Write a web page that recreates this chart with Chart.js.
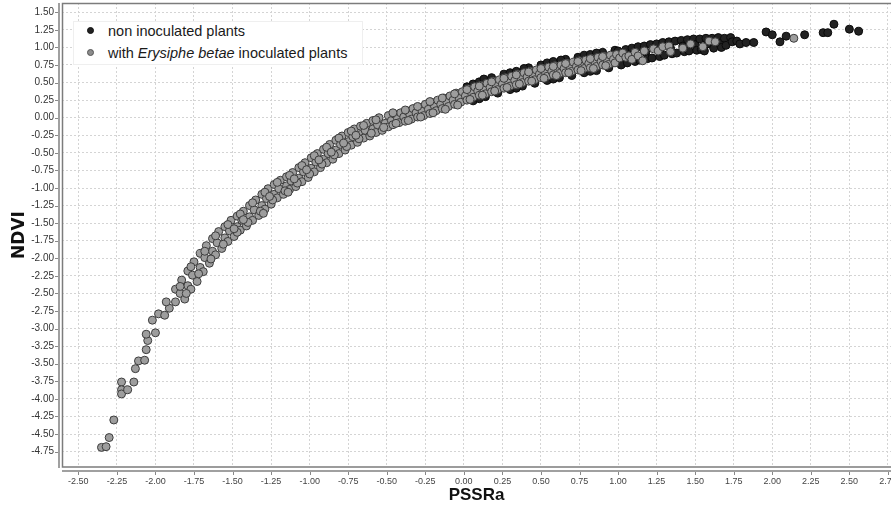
<!DOCTYPE html>
<html><head><meta charset="utf-8">
<script src="https://cdn.jsdelivr.net/npm/chart.js@4.4.0/dist/chart.umd.min.js"></script>
<style>
html,body{margin:0;padding:0;background:#fff;overflow:hidden;}
#wrap{position:relative;width:891px;height:506px;}
canvas{display:block;}
#legend{position:absolute;left:73px;top:21px;width:288px;height:42px;background:#fff;border:1px solid #efefef;font-family:'Liberation Sans',Arial,sans-serif;font-size:14.5px;color:#1a1a1a;}
.row{position:absolute;left:0;height:20px;line-height:20px;white-space:nowrap;}
.mk{position:absolute;left:13px;top:6px;width:7px;height:7px;border-radius:50%;box-sizing:border-box;}
.tx{position:absolute;left:34px;top:0;}
</style>
</head><body>
<div id="wrap">
<canvas id="c" width="891" height="506"></canvas>
<div id="legend">
 <div class="row" style="top:-1px"><span class="mk" style="background:#222;border:1px solid #111"></span><span class="tx">non inoculated plants</span></div>
 <div class="row" style="top:21px"><span class="mk" style="background:#8c8c8c;border:1px solid #555"></span><span class="tx">with <i>Erysiphe betae</i> inoculated plants</span></div>
</div>
</div>
<script>
const xTickValues = [-2.5,-2.25,-2,-1.75,-1.5,-1.25,-1,-0.75,-0.5,-0.25,0,0.25,0.5,0.75,1,1.25,1.5,1.75,2,2.25,2.5,2.75];
const yTickValues = [1.5,1.25,1,0.75,0.5,0.25,0,-0.25,-0.5,-0.75,-1,-1.25,-1.5,-1.75,-2,-2.25,-2.5,-2.75,-3,-3.25,-3.5,-3.75,-4,-4.25,-4.5,-4.75];
const seriesLabels = ['non inoculated plants','with Erysiphe betae inoculated plants'];

// [PSSRa, NDVI] - non inoculated plants (dark points)
const nonInoculated = [
[0.02,0.44],[0.06,0.48],[0.10,0.51],[0.18,0.57],[0.26,0.62],[0.30,0.64],[0.34,0.66],[0.42,0.71],[0.50,0.75],[0.54,0.78],[0.58,0.80],[0.66,0.83],[0.74,0.86],[0.78,0.89],[0.82,0.90],[0.90,0.93],[0.98,0.96],
[0.13,0.55],[0.39,0.70],[0.63,0.82],[0.86,0.92],
[0.06,0.24],[0.14,0.30],[0.22,0.35],[0.30,0.40],[0.38,0.45],[0.46,0.49],[0.54,0.53],[0.62,0.57],[0.70,0.60],[0.78,0.64],[0.86,0.67],[0.94,0.71],
[0.10,0.27],[0.34,0.42],[0.58,0.55],[0.82,0.66],
[1.00,0.95],[1.01,0.85],[1.02,0.75],[1.05,0.97],[1.06,0.78],[1.09,0.99],[1.10,0.90],[1.11,0.80],[1.13,1.01],[1.14,0.82],
[1.17,1.02],[1.18,0.93],[1.19,0.84],[1.21,1.04],[1.22,0.85],[1.25,1.05],[1.26,0.96],[1.27,0.87],[1.29,1.07],[1.30,0.89],
[1.33,1.08],[1.34,0.99],[1.35,0.91],[1.37,1.09],[1.38,0.92],[1.41,1.10],[1.42,1.02],[1.43,0.94],[1.45,1.11],[1.46,0.95],
[1.49,1.12],[1.50,1.04],[1.51,0.96],[1.53,1.12],[1.54,0.97],[1.57,1.13],[1.58,1.05],[1.56,0.95],[1.61,1.13],[1.62,0.99],
[1.65,1.14],[1.66,1.06],[1.67,1.00],[1.69,1.13],[1.70,1.03],[1.73,1.14],[1.74,1.08],[1.77,1.09],[1.79,1.05],[1.83,1.07],[1.88,1.07],
[1.96,1.22],[2.00,1.18],[2.05,1.08],[2.09,1.16],[2.21,1.18],[2.33,1.21],[2.36,1.21],[2.40,1.33],[2.50,1.26],[2.56,1.23]
];

// [PSSRa, NDVI] - with Erysiphe betae inoculated plants (grey points)
const inoculated = [
[-2.35,-4.69],[-2.32,-4.68],[-2.30,-4.55],[-2.27,-4.30],
[-2.22,-3.76],[-2.22,-3.87],[-2.22,-3.93],[-2.18,-3.87],[-2.14,-3.76],[-2.13,-3.57],[-2.11,-3.46],[-2.07,-3.45],[-2.06,-3.30],[-2.05,-3.17],[-2.06,-3.08],[-2.00,-3.06],[-2.02,-2.88],[-1.98,-2.79],[-1.94,-2.81],[-1.91,-2.71],[-1.93,-2.62],[-1.87,-2.62],
[-1.87,-2.44],[-1.84,-2.50],[-1.81,-2.58],[-1.83,-2.31],[-1.79,-2.39],[-1.77,-2.44],[-1.79,-2.18],[-1.76,-2.24],[-1.73,-2.33],
[-1.75,-2.05],[-1.71,-2.13],[-1.69,-2.19],[-1.71,-1.93],[-1.68,-1.99],[-1.65,-2.07],[-1.67,-1.82],[-1.63,-1.90],[-1.61,-1.95],
[-1.63,-1.72],[-1.60,-1.78],[-1.57,-1.86],[-1.59,-1.62],[-1.55,-1.71],[-1.53,-1.76],[-1.55,-1.55],[-1.52,-1.61],[-1.49,-1.69],
[-1.51,-1.46],[-1.47,-1.55],[-1.45,-1.60],[-1.47,-1.40],[-1.44,-1.46],[-1.41,-1.54],[-1.43,-1.33],[-1.39,-1.41],[-1.37,-1.46],
[-1.39,-1.25],[-1.36,-1.31],[-1.33,-1.39],[-1.35,-1.17],[-1.31,-1.25],[-1.29,-1.30],[-1.31,-1.09],[-1.28,-1.15],[-1.25,-1.23],
[-1.27,-1.01],[-1.23,-1.09],[-1.21,-1.14],[-1.23,-0.95],[-1.20,-1.01],[-1.17,-1.09],[-1.19,-0.89],[-1.15,-0.97],[-1.13,-1.02],
[-1.15,-0.84],[-1.12,-0.90],[-1.09,-0.98],[-1.11,-0.78],[-1.07,-0.86],[-1.05,-0.91],[-1.07,-0.71],[-1.04,-0.77],[-1.01,-0.85],
[-1.03,-0.64],[-0.99,-0.72],[-0.97,-0.77],[-0.99,-0.57],[-0.96,-0.63],[-0.93,-0.71],[-0.95,-0.51],[-0.91,-0.59],[-0.89,-0.64],
[-0.91,-0.45],[-0.88,-0.51],[-0.85,-0.59],[-0.87,-0.38],[-0.83,-0.46],[-0.81,-0.51],[-0.83,-0.32],[-0.80,-0.38],[-0.77,-0.46],
[-0.79,-0.26],[-0.75,-0.34],[-0.73,-0.39],[-0.75,-0.21],[-0.72,-0.27],[-0.69,-0.35],[-0.71,-0.16],[-0.67,-0.24],[-0.65,-0.29],
[-0.67,-0.12],[-0.64,-0.18],[-0.61,-0.26],[-0.63,-0.08],[-0.59,-0.16],[-0.57,-0.21],[-0.59,-0.04],[-0.56,-0.10],[-0.53,-0.18],
[-0.55,0.00],[-0.51,-0.08],[-0.49,-0.13],
[-1.84,-2.40],[-1.80,-2.50],[-1.77,-2.12],[-1.72,-2.22],[-1.68,-1.90],[-1.64,-2.01],[-1.61,-1.68],[-1.56,-1.80],
[-1.53,-1.52],[-1.47,-1.63],[-1.49,-1.58],[-1.45,-1.37],[-1.40,-1.49],[-1.43,-1.45],[-1.37,-1.21],[-1.32,-1.33],[-1.30,-1.36],
[-1.29,-1.06],[-1.24,-1.17],[-1.26,-1.12],[-1.21,-0.92],[-1.16,-1.04],[-1.14,-1.06],[-1.13,-0.82],[-1.08,-0.93],[-1.10,-0.87],
[-1.05,-0.68],[-1.00,-0.80],[-1.02,-0.74],[-0.97,-0.54],[-0.92,-0.66],[-0.94,-0.60],[-0.89,-0.42],[-0.84,-0.53],[-0.86,-0.49],
[-0.81,-0.29],[-0.76,-0.41],[-0.78,-0.36],[-0.73,-0.19],[-0.68,-0.30],[-0.70,-0.25],[-0.65,-0.11],[-0.60,-0.22],[-0.57,-0.03],[-0.52,-0.14],
[-0.49,0.03],[-0.47,-0.04],[-0.46,-0.10],[-0.45,0.05],[-0.43,-0.01],[-0.42,-0.07],[-0.41,0.07],[-0.39,0.01],[-0.38,-0.05],
[-0.37,0.10],[-0.35,0.04],[-0.34,-0.02],[-0.33,0.13],[-0.31,0.07],[-0.30,0.01],[-0.29,0.15],[-0.27,0.09],[-0.26,0.03],
[-0.25,0.19],[-0.23,0.12],[-0.22,0.06],[-0.21,0.22],[-0.19,0.16],[-0.18,0.10],[-0.17,0.25],[-0.15,0.19],[-0.14,0.13],
[-0.13,0.28],[-0.11,0.22],[-0.10,0.16],[-0.09,0.31],[-0.07,0.25],[-0.06,0.19],[-0.05,0.35],[-0.03,0.28],[-0.02,0.22],
[-0.01,0.37],[0.01,0.31],[0.02,0.25],[0.03,0.41],[0.05,0.35],[0.06,0.29],[0.07,0.44],[0.09,0.38],[0.10,0.32],
[0.11,0.46],[0.13,0.40],[0.14,0.34],[0.15,0.49],[0.17,0.43],[0.18,0.37],[0.19,0.52],[0.21,0.46],[0.22,0.40],
[0.23,0.54],[0.25,0.48],[0.26,0.42],[0.27,0.57],[0.29,0.51],[0.30,0.45],[0.31,0.59],[0.33,0.53],[0.34,0.47],
[0.35,0.62],[0.37,0.56],[0.38,0.50],[0.39,0.64],[0.41,0.58],[0.42,0.52],[0.43,0.66],[0.45,0.60],[0.46,0.54],
[0.47,0.68],[0.49,0.62],[0.50,0.57],[0.51,0.70],[0.53,0.64],[0.54,0.59],[0.55,0.72],[0.57,0.66],[0.58,0.61],
[0.59,0.74],[0.61,0.68],[0.62,0.63],[0.63,0.75],[0.65,0.70],[0.66,0.64],[0.67,0.77],[0.69,0.72],[0.70,0.66],
[0.71,0.79],[0.73,0.73],[0.74,0.68],[0.75,0.81],[0.77,0.75],[0.78,0.70],[0.79,0.82],[0.81,0.77],[0.82,0.71],
[0.83,0.84],[0.85,0.79],[0.86,0.73],[0.87,0.86],[0.89,0.80],[0.90,0.75],[0.91,0.87],[0.93,0.82],[0.94,0.76],
[0.95,0.89],[0.97,0.83],[0.98,0.78],
[-0.46,0.07],[-0.44,-0.08],[-0.38,0.11],[-0.36,-0.04],[-0.30,0.16],[-0.28,0.01],[-0.22,0.23],[-0.20,0.07],[-0.14,0.28],[-0.12,0.12],
[-0.06,0.34],[-0.04,0.18],[0.02,0.40],[0.04,0.26],[0.10,0.45],[0.12,0.32],[0.18,0.51],[0.20,0.38],[0.26,0.56],[0.28,0.43],
[0.34,0.61],[0.36,0.48],[0.42,0.65],[0.44,0.52],[0.50,0.70],[0.52,0.56],[0.58,0.73],[0.60,0.60],[0.66,0.77],[0.68,0.64],
[0.74,0.80],[0.76,0.67],[0.82,0.84],[0.84,0.70],[0.90,0.87],[0.92,0.74],
[0.99,0.90],[1.01,0.85],[1.03,0.92],[1.05,0.86],[1.07,0.88],[1.09,0.83],[1.11,0.93],[1.13,0.88],[1.16,0.81],[1.17,0.95],
[1.23,0.98],[1.26,0.95],[1.29,1.01],[1.33,1.02],[1.34,0.94],[1.42,0.99],[1.47,1.05],[1.55,1.01],[1.59,1.09],[1.63,1.08],[2.14,1.13]
];

const toXY = arr => arr.map(p => ({x: p[0], y: p[1]}));
const tickFont = {family: "'Liberation Sans', Arial, sans-serif", size: 9};

const frame = {
  id: 'frame',
  afterDraw(chart) {
    const {ctx, chartArea: a, scales: {x, y}} = chart;
    ctx.save();
    ctx.strokeStyle = '#7c7c7c';
    ctx.lineWidth = 1.5;
    ctx.beginPath();
    ctx.moveTo(chart.width + 2, a.top + 0.5);
    ctx.lineTo(a.left + 0.5, a.top + 0.5);
    ctx.lineTo(a.left + 0.5, a.bottom);
    ctx.lineTo(chart.width + 2, a.bottom);
    ctx.stroke();
    ctx.strokeStyle = '#a0a0a0';
    ctx.lineWidth = 2;
    ctx.beginPath();
    ctx.moveTo(a.left - 3, a.top);
    ctx.lineTo(a.left - 3, a.bottom + 1);
    ctx.moveTo(a.left, a.bottom + 4);
    ctx.lineTo(chart.width + 2, a.bottom + 4);
    ctx.stroke();
    ctx.strokeStyle = '#888';
    ctx.lineWidth = 1;
    ctx.beginPath();
    yTickValues.forEach(v => { const py = Math.round(y.getPixelForValue(v)) + 0.5; ctx.moveTo(a.left - 7, py); ctx.lineTo(a.left - 4, py); });
    xTickValues.forEach(v => { const px = Math.round(x.getPixelForValue(v)) + 0.5; ctx.moveTo(px, a.bottom + 5); ctx.lineTo(px, a.bottom + 8); });
    ctx.stroke();
    ctx.restore();
  }
};

new Chart(document.getElementById('c'), {
  type: 'scatter',
  data: {
    datasets: [
      {label: seriesLabels[0], data: toXY(nonInoculated), backgroundColor: '#222222', borderColor: '#0a0a0a', borderWidth: 1, pointRadius: 4, order: 2},
      {label: seriesLabels[1], data: toXY(inoculated), backgroundColor: '#9d9d9d', borderColor: '#3c3c3c', borderWidth: 1, pointRadius: 4, order: 1}
    ]
  },
  options: {
    responsive: false,
    animation: false,
    devicePixelRatio: 1,
    layout: {padding: {top: 3, left: 0, right: 0, bottom: 0}, autoPadding: false},
    plugins: {legend: {display: false}, tooltip: {enabled: false}},
    scales: {
      x: {
        type: 'linear', min: -2.606, max: 2.77,
        afterBuildTicks: s => { s.ticks = xTickValues.map(v => ({value: v})); },
        afterFit: s => { s.height = 39; s.paddingLeft = 0; s.paddingRight = 0; },
        ticks: {callback: v => Number(v).toFixed(2), font: tickFont, color: '#444', padding: 9, maxRotation: 0, autoSkip: false},
        grid: {color: '#d4d4d4', drawTicks: false, lineWidth: 1},
        border: {display: false, dash: [2, 2]},
        title: {display: true, text: 'PSSRa', color: '#111', font: {family: "'Liberation Sans', Arial, sans-serif", weight: 'bold', size: 17}, padding: {top: 0, bottom: 0}}
      },
      y: {
        type: 'linear', min: -4.969, max: 1.632,
        afterBuildTicks: s => { s.ticks = yTickValues.map(v => ({value: v})); },
        afterFit: s => { s.width = 62; s.paddingTop = 0; s.paddingBottom = 0; },
        ticks: {callback: v => Number(v).toFixed(2), font: {family: "'Liberation Sans', Arial, sans-serif", size: 10}, color: '#333', padding: 8, autoSkip: false},
        grid: {color: '#d4d4d4', drawTicks: false, lineWidth: 1},
        border: {display: false, dash: [2, 2]},
        title: {display: true, text: 'NDVI', color: '#111', font: {family: "'DejaVu Sans', sans-serif", weight: 'bold', size: 17}, padding: {top: 9, bottom: 0}}
      }
    }
  },
  plugins: [frame]
});
</script>
</body></html>
